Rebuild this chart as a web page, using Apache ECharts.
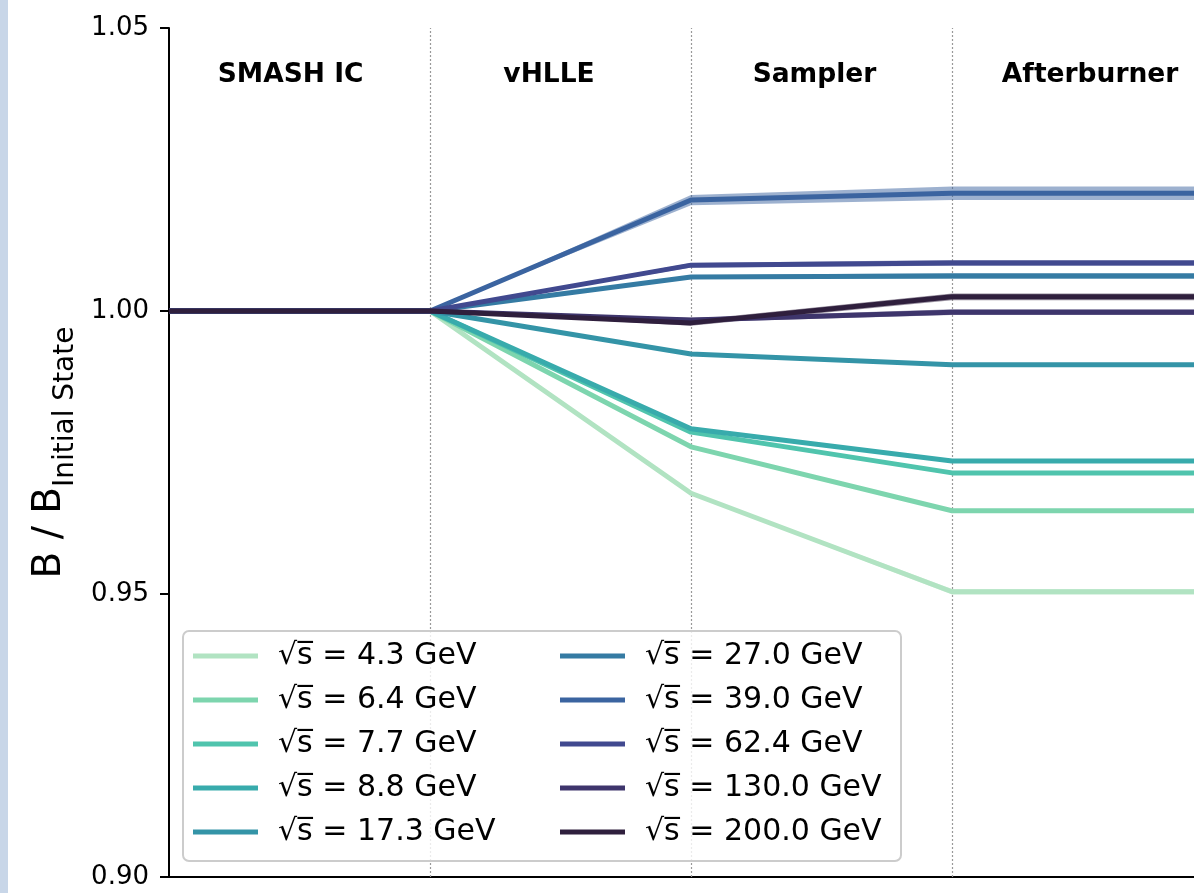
<!DOCTYPE html>
<html><head><meta charset="utf-8">
<script src="https://cdn.jsdelivr.net/npm/echarts@6/dist/echarts.min.js"></script>
<style>html,body{margin:0;padding:0;background:#fff}#c{width:1194px;height:893px}</style>
</head><body><div id="c"></div>
<script>
// ---- data ----
const stages = ['SMASH IC', 'vHLLE', 'Sampler', 'Afterburner'];
const stagePos = [0.466, 1.456, 2.473, 3.529];
const stageLabelY = 1.0417;
const stageBounds = [1, 2, 3];
const xSteps = [0, 1, 2, 3, 4];
const xVisibleMax = 3.927;
const energies = ['4.3', '6.4', '7.7', '8.8', '17.3', '27.0', '39.0', '62.4', '130.0', '200.0'];
const colors = ['#b1e3c2', '#7dd5ae', '#50c4ad', '#38abac', '#3494a7', '#357ba3', '#3b64a0', '#41498f', '#3e356c', '#2f1f3d'];
const ratio = [
  [1, 1, 0.9678, 0.9504, 0.9504],   // 4.3
  [1, 1, 0.9760, 0.9647, 0.9647],   // 6.4
  [1, 1, 0.9786, 0.9714, 0.9714],   // 7.7
  [1, 1, 0.9792, 0.9735, 0.9735],   // 8.8
  [1, 1, 0.9924, 0.9905, 0.9905],   // 17.3
  [1, 1, 1.0060, 1.0062, 1.0062],   // 27.0
  [1, 1, 1.0196, 1.0208, 1.0208],   // 39.0
  [1, 1, 1.0081, 1.0085, 1.0085],   // 62.4
  [1, 1, 0.9984, 0.9998, 0.9998],   // 130.0
  [1, 1, 0.9979, 1.0025, 1.0025]    // 200.0
];
const errs = [
  [0, 0, 0.0002, 0.0005, 0.0005],
  [0, 0, 0.0002, 0.0003, 0.0003],
  [0, 0, 0.0002, 0.0002, 0.0002],
  [0, 0, 0.0002, 0.0002, 0.0002],
  [0, 0, 0.0002, 0.0003, 0.0003],
  [0, 0, 0.0003, 0.0005, 0.0005],
  [0, 0, 0.0009, 0.0012, 0.0012],
  [0, 0, 0.0004, 0.0005, 0.0005],
  [0, 0, 0.0004, 0.0005, 0.0005],
  [0, 0, 0.0005, 0.0006, 0.0006]
];
const yTicks = [0.90, 0.95, 1.00, 1.05];

// ---- chart ----
const FONT = 'DejaVu Sans';
const names = energies.map(e => '\u221As\u0305 = ' + e + ' GeV');
const series = [];
energies.forEach((e, i) => {
  const lo = ratio[i].map((v, k) => v - errs[i][k]);
  const hi = ratio[i].map((v, k) => v + errs[i][k]);
  series.push({
    type: 'custom', silent: true, z: 2 + i * 0.01,
    data: xSteps.map((x, k) => [x, lo[k], hi[k]]),
    renderItem: function (params, api) {
      const k = params.dataIndex;
      if (k >= xSteps.length - 1) return null;
      const pts = [
        api.coord([xSteps[k], lo[k]]), api.coord([xSteps[k + 1], lo[k + 1]]),
        api.coord([xSteps[k + 1], hi[k + 1]]), api.coord([xSteps[k], hi[k]])
      ];
      return { type: 'polygon', shape: { points: pts },
        style: { fill: colors[i], opacity: 0.5 } };
    }
  });
  series.push({
    name: names[i], type: 'line', symbol: 'none', z: 3 + i * 0.01,
    color: colors[i],
    lineStyle: { width: 5, color: colors[i], cap: 'butt', join: 'round' },
    data: xSteps.map((x, k) => [x, ratio[i][k]]),
    markLine: i === 0 ? {
      silent: true, symbol: 'none', label: { show: false }, z: 1,
      lineStyle: { color: '#999', type: [2, 2], width: 1.2 },
      data: stageBounds.map(b => ({ xAxis: b }))
    } : undefined
  });
});
series.push({
  type: 'scatter', silent: true, symbolSize: 0, z: 10,
  itemStyle: { opacity: 1 },
  data: stages.map((s, k) => ({ value: [stagePos[k], stageLabelY], name: s })),
  label: { show: true, position: 'inside', formatter: p => p.name, opacity: 1,
    fontFamily: FONT, fontWeight: 'bold', fontSize: 26.5, color: '#000' }
});

const legendCommon = {
  orient: 'vertical', icon: 'rect', itemWidth: 65, itemHeight: 5, itemGap: 14, z: 6,
  textStyle: { fontFamily: FONT, fontSize: 30, color: '#000', lineHeight: 30, padding: [0, 0, 0, 15] },
  selectedMode: false
};

const chart = echarts.init(document.getElementById('c'), null, { renderer: 'canvas' });
chart.setOption({
  animation: false,
  backgroundColor: '#fff',
  grid: { left: 169, top: 28, right: 0, height: 849, containLabel: false },
  xAxis: {
    type: 'value', min: 0, max: xVisibleMax,
    axisLine: { show: true, onZero: false, lineStyle: { color: '#000', width: 2 } },
    axisTick: { show: false }, axisLabel: { show: false },
    splitLine: { show: false }
  },
  yAxis: {
    type: 'value', min: yTicks[0], max: yTicks[yTicks.length - 1], interval: 0.05,
    axisLine: { show: true, lineStyle: { color: '#000', width: 2 } },
    axisTick: { show: true, length: 9, lineStyle: { color: '#000', width: 2 } },
    axisLabel: { fontFamily: FONT, fontSize: 26, color: '#000', margin: 20, formatter: v => v.toFixed(2) },
    splitLine: { show: false },
    name: '{b|B / B}{s|Initial State}', nameLocation: 'middle', nameGap: 88, nameRotate: 90,
    nameTextStyle: {
      fontFamily: FONT, color: '#000',
      rich: {
        b: { fontFamily: FONT, fontSize: 39, color: '#000', lineHeight: 50, verticalAlign: 'top' },
        s: { fontFamily: FONT, fontSize: 28, color: '#000', lineHeight: 50, verticalAlign: 'bottom' }
      }
    }
  },
  legend: [
    Object.assign({ left: 188, top: 636, data: names.slice(0, 5) }, legendCommon),
    Object.assign({ left: 555, top: 636, data: names.slice(5) }, legendCommon)
  ],
  graphic: [
    { type: 'rect', left: 0, top: 0, shape: { width: 8, height: 893 }, style: { fill: '#c8d6e8' }, z: 0 },
    { type: 'rect', left: 182, top: 630, shape: { x: 0, y: 0, width: 718, height: 230, r: 6 },
      style: { fill: 'rgba(255,255,255,0.8)', stroke: '#cccccc', lineWidth: 2 }, z: 5 }
  ],
  series: series
});
</script>
</body></html>
